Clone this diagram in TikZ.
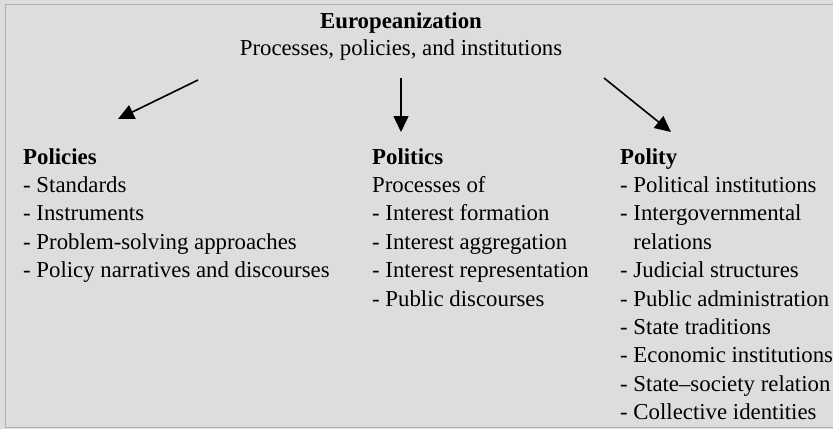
\documentclass[tikz,border=0pt]{standalone}
\usepackage{fontspec}
\setmainfont{Liberation Serif}
\usetikzlibrary{arrows.meta}
\newcommand\Lrow[1]{\hbox{\strut #1}}
\begin{document}
\begin{tikzpicture}[x=1pt,y=-1pt,
  txt/.style={anchor=base west,inner sep=0pt,font=\fontsize{22.8}{28.4}\selectfont},
  ctr/.style={anchor=base,inner sep=0pt,font=\fontsize{22.8}{28.4}\selectfont},
  arr/.style={line width=1.6pt,-{Triangle[length=16pt,width=15pt]}}]
\useasboundingbox (0,0) rectangle (833,429);
\fill[fill={rgb,255:red,221;green,221;blue,221}] (0,0) rectangle (833,429);
\draw[line width=1.5pt,draw={rgb,255:red,175;green,175;blue,175}] (833,4.5) -- (5.5,4.5) -- (5.5,427.5) -- (833,427.5);
\node[ctr,font=\fontsize{22.8}{28.4}\selectfont\bfseries] (title) at (401,28) {Europeanization};
\node[ctr] (sub) at (401,55) {Processes, policies, and institutions};
\coordinate (la) at (198,80);
\coordinate (ma) at (401,78);
\coordinate (ra) at (604,78);
\node[txt] (pol) at (23,164) {\vtop{\baselineskip=28.4pt\Lrow{\textbf{Policies}}\Lrow{- Standards}\Lrow{- Instruments}\Lrow{- Problem-solving approaches}\Lrow{- Policy narratives and discourses}}};
\node[txt] (polit) at (372,164) {\vtop{\baselineskip=28.4pt\Lrow{\textbf{Politics}}\Lrow{Processes of}\Lrow{- Interest formation}\Lrow{- Interest aggregation}\Lrow{- Interest representation}\Lrow{- Public discourses}}};
\node[txt] (polity) at (620,164) {\vtop{\baselineskip=28.4pt\Lrow{\textbf{Polity}}\Lrow{- Political institutions}\Lrow{- Intergovernmental}\Lrow{\hphantom{-\ }relations}\Lrow{- Judicial structures}\Lrow{- Public administration}\Lrow{- State traditions}\Lrow{- Economic institutions}\Lrow{- State--society relation}\Lrow{- Collective identities}}};
\coordinate (lb) at (118,119);
\coordinate (mb) at (401,132);
\coordinate (rb) at (671,132);
\draw[arr] (la) -- (lb);
\draw[arr] (ma) -- (mb);
\draw[arr] (ra) -- (rb);
\end{tikzpicture}
\end{document}
